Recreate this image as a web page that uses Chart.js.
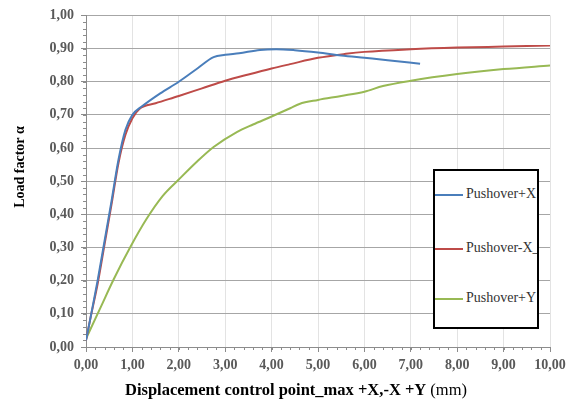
<!DOCTYPE html>
<html>
<head>
<meta charset="utf-8">
<script src="https://cdn.jsdelivr.net/npm/chart.js@4"></script>
<style>
  body { margin: 0; background: #fff; }
  #wrap { position: relative; width: 572px; height: 403px; }
  #legend {
    position: absolute; left: 433px; top: 169px; width: 102px; height: 156px;
    border: 2px solid #000; background: #fff; overflow: hidden;
    font-family: "Liberation Serif", serif; font-size: 14px; color: #333;
  }
  .item { position: absolute; left: 0; height: 16px; line-height: 16px; white-space: nowrap; }
  .swatch { display: inline-block; width: 28px; height: 2px; vertical-align: middle; margin-right: 3px; }
</style>
</head>
<body>
<div id="wrap">
  <canvas id="chart" width="572" height="403"></canvas>
  <div id="legend"></div>
</div>
<script>
// Data
const labels = ['Pushover+X', 'Pushover-X_', 'Pushover+Y'];
const colors = ['#4A7EBB', '#BE4B48', '#98B954'];

const plusX_x = [0, 0.1, 0.25, 0.4, 0.55, 0.7, 0.85, 1.0, 1.2, 1.6, 2.0, 2.4, 2.75, 3.0, 3.3, 3.75, 4.1, 4.5, 5.0, 5.5, 6.0, 6.5, 7.2];
const plusX_y = [0.02, 0.09, 0.2, 0.32, 0.44, 0.565, 0.655, 0.70, 0.725, 0.765, 0.80, 0.84, 0.874, 0.881, 0.886, 0.896, 0.898, 0.895, 0.888, 0.879, 0.872, 0.865, 0.854];

const minusX_x = [0, 0.1, 0.25, 0.4, 0.55, 0.7, 0.85, 1.0, 1.15, 1.5, 2.0, 2.5, 3.0, 3.5, 4.0, 4.4, 5.0, 5.6, 6.0, 7.0, 8.0, 9.0, 10.0];
const minusX_y = [0.02, 0.09, 0.19, 0.31, 0.43, 0.555, 0.64, 0.69, 0.718, 0.735, 0.757, 0.78, 0.803, 0.822, 0.84, 0.853, 0.872, 0.884, 0.89, 0.898, 0.903, 0.906, 0.909];

const plusY_x = [0, 0.3, 0.6, 0.95, 1.3, 1.65, 2.0, 2.4, 2.75, 3.25, 3.6, 4.0, 4.4, 4.6, 5.0, 5.5, 6.0, 6.4, 7.0, 8.0, 9.0, 10.0];
const plusY_y = [0.025, 0.115, 0.205, 0.30, 0.385, 0.455, 0.505, 0.56, 0.603, 0.648, 0.671, 0.695, 0.72, 0.733, 0.745, 0.757, 0.77, 0.787, 0.803, 0.823, 0.838, 0.849];

const xTitle = 'Displacement control point_max +X,-X +Y';
const xUnit = ' (mm)';
const yTitle = 'Load factor α';

const toPoints = (xs, ys) => xs.map((x, i) => ({ x: x, y: ys[i] }));
const series = [toPoints(plusX_x, plusX_y), toPoints(minusX_x, minusX_y), toPoints(plusY_x, plusY_y)];

const serif = '"Liberation Serif", serif';
const comma = v => Number(v).toFixed(2).replace('.', ',');

// minor ticks + axis titles
const extras = {
    id: 'extras',
    afterDraw(chart) {
        const ctx = chart.ctx;
        const area = chart.chartArea;
        const xs = chart.scales.x, ys = chart.scales.y;
        ctx.save();
        ctx.strokeStyle = '#8c8c8c';
        ctx.lineWidth = 1;
        ctx.beginPath();
        for (let i = 0; i <= 50; i++) {
            const px = Math.round(xs.getPixelForValue(i * 0.2)) + 0.5;
            ctx.moveTo(px, area.bottom);
            ctx.lineTo(px, area.bottom + 3);
        }
        for (let i = 0; i <= 50; i++) {
            const py = Math.round(ys.getPixelForValue(i * 0.02)) + 0.5;
            ctx.moveTo(area.left - 3, py);
            ctx.lineTo(area.left, py);
        }
        ctx.stroke();

        ctx.fillStyle = '#000';
        ctx.textBaseline = 'middle';
        ctx.font = 'bold 16.5px ' + serif;
        const w1 = ctx.measureText(xTitle).width;
        ctx.font = '16.5px ' + serif;
        const w2 = ctx.measureText(xUnit).width;
        let x0 = 296 - (w1 + w2) / 2;
        ctx.textAlign = 'left';
        ctx.font = 'bold 16.5px ' + serif;
        ctx.fillText(xTitle, x0, 391);
        ctx.font = '16.5px ' + serif;
        ctx.fillText(xUnit, x0 + w1, 391);

        ctx.translate(20, 167);
        ctx.rotate(-Math.PI / 2);
        ctx.textAlign = 'center';
        ctx.font = 'bold 14px ' + serif;
        ctx.fillText(yTitle, 0, 0);
        ctx.restore();
    }
};

new Chart(document.getElementById('chart'), {
    type: 'line',
    data: {
        datasets: series.map((d, i) => ({
            label: labels[i],
            data: d,
            borderColor: colors[i],
            backgroundColor: colors[i],
            borderWidth: 2,
            pointRadius: 0,
            cubicInterpolationMode: 'monotone',
            fill: false
        }))
    },
    options: {
        responsive: false,
        animation: false,
        layout: { padding: { left: 0, right: 22, top: 13, bottom: 0 } },
        plugins: { legend: { display: false }, tooltip: { enabled: false } },
        scales: {
            x: {
                type: 'linear', min: 0, max: 10,
                afterFit: s => { s.height = 56; },
                ticks: { stepSize: 1, callback: comma, color: '#595959', padding: 5, maxRotation: 0,
                         font: { family: serif, size: 14, weight: 'bold' } },
                grid: { color: '#e3e3e3', tickColor: '#8c8c8c', tickLength: 5 },
                border: { color: '#8c8c8c' }
            },
            y: {
                min: 0, max: 1,
                afterFit: s => { s.width = 86; },
                ticks: { stepSize: 0.1, callback: comma, color: '#595959', padding: 7,
                         font: { family: serif, size: 14, weight: 'bold' } },
                grid: { color: '#a6a6a6', tickColor: '#8c8c8c', tickLength: 5 },
                border: { color: '#8c8c8c' }
            }
        }
    },
    plugins: [extras]
});

// legend box
const legend = document.getElementById('legend');
const rowTops = [15, 69, 119];
labels.forEach((name, i) => {
    const row = document.createElement('div');
    row.className = 'item';
    row.style.top = rowTops[i] + 'px';
    row.innerHTML = '<span class="swatch" style="background:' + colors[i] + '"></span>' + name;
    legend.appendChild(row);
});
</script>
</body>
</html>
